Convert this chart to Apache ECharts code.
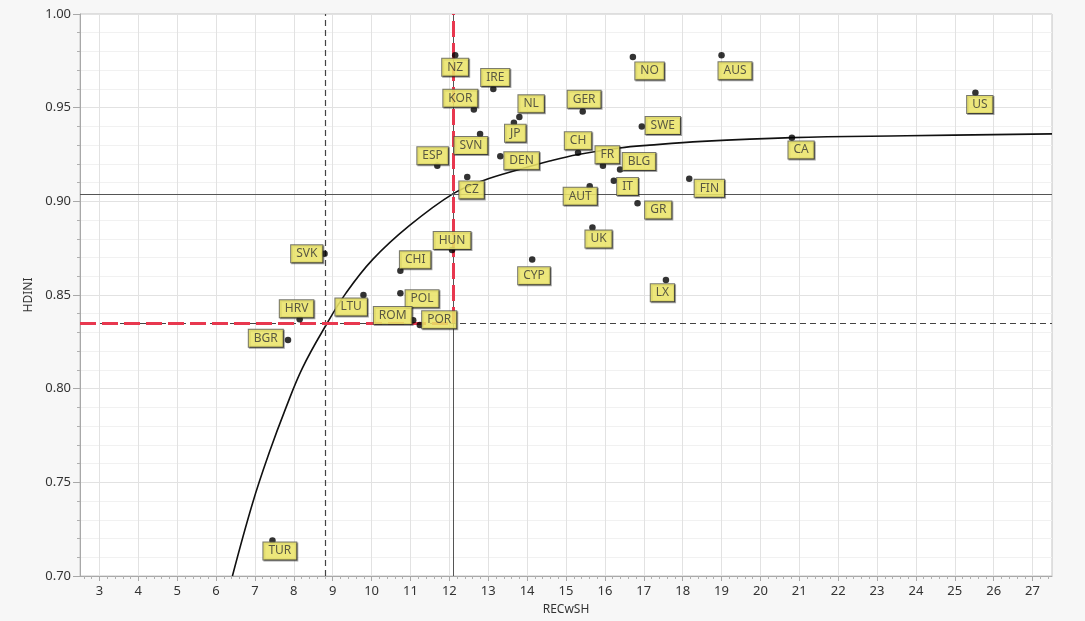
<!DOCTYPE html>
<html>
<head>
<meta charset="utf-8">
<script src="https://cdn.jsdelivr.net/npm/echarts@6/dist/echarts.min.js"></script>
<style>
html,body{margin:0;padding:0;background:#f7f7f7;}
#c{width:1085px;height:621px;}
</style>
</head>
<body>
<div id="c"></div>
<script>
// ---- data ----
const countries = ['NZ','IRE','KOR','NL','JP','SVN','GER','NO','SWE','ESP','DEN','CH','FR','BLG','CZ','IT','AUT','FIN','GR','UK','CYP','LX','AUS','CA','US','HUN','CHI','POL','ROM','POR','LTU','SVK','HRV','BGR','TUR'];
const recwsh = [12.15,13.13,12.63,13.80,13.66,12.79,15.43,16.72,16.95,11.69,13.31,15.31,15.95,16.39,12.46,16.23,15.61,18.17,16.84,15.68,14.13,17.57,19.00,20.81,25.53,12.07,10.74,10.74,11.07,11.24,9.79,8.79,8.15,7.85,7.45];
const hdini = [0.978,0.960,0.949,0.945,0.942,0.936,0.948,0.977,0.940,0.919,0.924,0.926,0.919,0.917,0.913,0.911,0.908,0.912,0.899,0.886,0.869,0.858,0.978,0.934,0.958,0.874,0.863,0.851,0.8365,0.834,0.850,0.872,0.837,0.826,0.719];

// fitted curve
const curveX = [6.42,6.94,7.37,7.80,8.22,8.83,9.34,10.03,10.97,12.09,12.86,13.80,14.58,15.31,16.38,17.15,18.50,20.80,23.76,27.50];
const curveY = [0.700,0.739,0.766,0.790,0.811,0.834,0.851,0.869,0.887,0.904,0.911,0.917,0.9215,0.925,0.9285,0.930,0.932,0.934,0.935,0.936];

// reference lines
const refXDashed = 8.80;
const refXSolid = 12.11;
const refYSolid = 0.904;
const refYDashed = 0.835;

// axis ticks
const xTicks = [3,4,5,6,7,8,9,10,11,12,13,14,15,16,17,18,19,20,21,22,23,24,25,26,27];
const xMin = 2.5, xMax = 27.5;
const yMin = 0.70, yMax = 1.00, yStep = 0.05;

// ---- label placement (style, not data) ----
const labelOffsets = {
  NZ:[0,12], IRE:[2,-11.5], KOR:[-13.5,-11.3], NL:[11.8,-13.2], JP:[1.4,10.5], SVN:[-9.2,11.7],
  GER:[1.4,-12.2], NO:[16.7,13.8], SWE:[21,-1], ESP:[-4.7,-10], DEN:[21.3,4.5], CH:[0,-11.9],
  FR:[4.4,-11], BLG:[19,-8], CZ:[4.3,12.9], IT:[13.7,5.7], AUT:[-9.5,9.8], FIN:[20.1,9.5],
  GR:[20.7,6.8], UK:[6.1,11.5], CYP:[1.8,16.3], LX:[-3.5,12.7], AUS:[13.5,15.5], CA:[9.2,12.3],
  US:[4.4,11.8], HUN:[0,-9.6], CHI:[14.8,-10.8], POL:[21.7,5.5], ROM:[-20.5,-4.8], POR:[19.4,-5.3],
  LTU:[-12.3,12], SVK:[-17.8,0], HRV:[-3.1,-10.5], BGR:[-22.2,-1.8], TUR:[7.4,10.5]
};

const xMinor = [];
for (let i = 0; i < xTicks.length + 1; i++) {
  const base = (i === 0 ? xTicks[0] - 1 : xTicks[i - 1]);
  for (let k = 1; k < 5; k++) {
    const v = +(base + k * 0.2).toFixed(2);
    if (v > xMin && v < xMax) xMinor.push(v);
  }
}

const pointData = countries.map((n, i) => ({ name: n, value: [recwsh[i], hdini[i]] }));
const curveData = curveX.map((x, i) => [x, curveY[i]]);

const FONT = '"Noto Sans", "Open Sans", sans-serif';
const chart = echarts.init(document.getElementById('c'));
chart.setOption({
  animation: false,
  backgroundColor: '#f7f7f7',
  grid: { left: 80, right: 33, top: 14, bottom: 41, show: true, backgroundColor: '#ffffff', borderColor: '#c4c4c4', borderWidth: 1 },
  xAxis: [{
    type: 'value', min: xMin, max: xMax, position: 'bottom',
    name: 'RECwSH', nameLocation: 'middle', nameGap: 28,
    nameTextStyle: { color: '#333', fontSize: 12, fontFamily: FONT },
    axisLine: { show: true, onZero: false, lineStyle: { color: '#a8a8a8' } },
    axisTick: { show: true, customValues: xTicks, length: 5, lineStyle: { color: '#a8a8a8' } },
    axisLabel: { customValues: xTicks, color: '#333', fontSize: 13, fontFamily: FONT, margin: 9 },
    splitLine: { show: true, lineStyle: { color: '#e2e2e2' } }
  }, {
    type: 'value', min: xMin, max: xMax, position: 'bottom',
    axisLine: { show: false },
    axisTick: { show: true, customValues: xMinor, length: 3, lineStyle: { color: '#b0b0b0' } },
    axisLabel: { show: false },
    splitLine: { show: false }
  }],
  yAxis: {
    type: 'value', min: yMin, max: yMax, interval: yStep,
    name: 'HDINI', nameLocation: 'middle', nameGap: 45,
    nameTextStyle: { color: '#333', fontSize: 12, fontFamily: FONT },
    axisLine: { show: true, onZero: false, lineStyle: { color: '#a8a8a8' } },
    axisTick: { show: true, length: 7, lineStyle: { color: '#a8a8a8' } },
    minorTick: { show: true, splitNumber: 5, length: 3, lineStyle: { color: '#b0b0b0' } },
    axisLabel: { color: '#333', fontSize: 13, fontFamily: FONT, margin: 9, formatter: v => v.toFixed(2) },
    splitLine: { show: true, lineStyle: { color: '#e2e2e2' } },
    minorSplitLine: { show: true, lineStyle: { color: '#f1f1f1' } }
  },
  series: [
    {
      type: 'line', data: [], z: 2, silent: true,
      markLine: {
        silent: true, symbol: 'none', animation: false, precision: 4,
        label: { show: false },
        data: [
          { xAxis: refXDashed, lineStyle: { color: '#444', type: [6, 4], width: 1.2 } },
          { xAxis: refXSolid, lineStyle: { color: '#555', type: 'solid', width: 1 } },
          { yAxis: refYSolid, lineStyle: { color: '#555', type: 'solid', width: 1 } },
          { yAxis: refYDashed, lineStyle: { color: '#444', type: [6, 4], width: 1.2 } }
        ]
      }
    },
    {
      type: 'line', data: curveData, smooth: 0.4, showSymbol: false, z: 3, silent: true,
      lineStyle: { color: '#111', width: 1.6 }
    },
    {
      type: 'line', data: [], z: 4, silent: true,
      markLine: {
        silent: true, symbol: 'none', animation: false, precision: 4,
        label: { show: false },
        lineStyle: { color: '#e8384f', type: [16, 6], width: 3 },
        data: [
          [{ coord: [xMin, refYDashed] }, { coord: [refXSolid, refYDashed] }],
          [{ coord: [refXSolid, refYDashed] }, { coord: [refXSolid, yMax] }]
        ]
      }
    },
    {
      type: 'scatter', data: pointData, symbolSize: 6.5, z: 5,
      itemStyle: { color: '#000' },
      label: {
        show: true, position: 'inside', formatter: '{b}',
        color: '#333', fontSize: 12, fontFamily: FONT,
        backgroundColor: '#fff870', borderColor: '#555548', borderWidth: 1,
        padding: [3, 5, 2, 5],
        shadowColor: 'rgba(0,0,0,0.45)', shadowOffsetX: 1, shadowOffsetY: 1, shadowBlur: 0
      },
      labelLayout: function (p) {
        const o = labelOffsets[countries[p.dataIndex]] || [0, 12];
        return { dx: o[0], dy: o[1], hideOverlap: false };
      }
    }
  ]
});
</script>
</body>
</html>
